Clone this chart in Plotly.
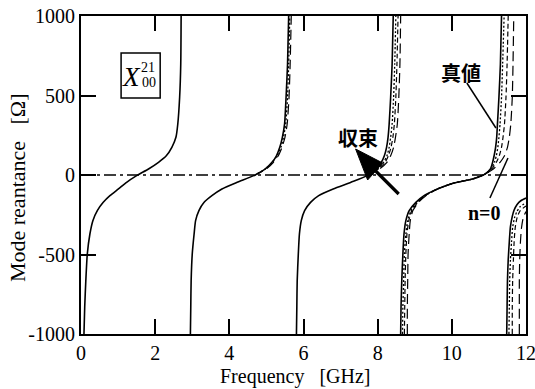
import plotly.graph_objects as go

# ---------------- data ----------------
X_TICKS = [0, 2, 4, 6, 8, 10, 12]
X_TICK_TEXT = ["0", "2", "4", "6", "8", "10", "12"]
Y_TICKS = [-1000, -500, 0, 500, 1000]
Y_TICK_TEXT = ["-1000", "-500", "0", "500", "1000"]

# "真値" (true value), solid, branch by branch
true_f1 = [0.08, 0.10, 0.13, 0.17, 0.24, 0.32, 0.44, 0.60, 0.78, 1.01, 1.23, 1.50, 1.82, 2.09, 2.30, 2.45, 2.56, 2.61, 2.66, 2.69, 2.70]
true_x1 = [-1000, -830, -665, -497, -371, -287, -224, -172, -130, -88, -46, -4, 38, 80, 121, 174, 237, 321, 489, 698, 1000]
true_f2 = [2.95, 2.96, 2.97, 3.00, 3.05, 3.09, 3.18, 3.32, 3.53, 3.80, 4.21, 4.66, 4.97, 5.15, 5.27, 5.36, 5.43, 5.49, 5.53, 5.57, 5.60]
true_x2 = [-1000, -830, -665, -497, -371, -287, -224, -172, -130, -88, -46, -4, 38, 80, 121, 174, 237, 321, 489, 698, 1000]
true_f3 = [5.81, 5.82, 5.83, 5.86, 5.89, 5.94, 6.03, 6.19, 6.41, 6.80, 7.28, 7.72, 7.96, 8.10, 8.18, 8.24, 8.28, 8.31, 8.35, 8.39, 8.42]
true_x3 = [-1000, -830, -665, -497, -371, -287, -224, -172, -130, -88, -46, -4, 38, 80, 121, 174, 237, 321, 489, 698, 1000]
true_f4 = [8.62, 8.63, 8.65, 8.68, 8.71, 8.76, 8.85, 9.03, 9.25, 9.61, 10.06, 10.56, 10.87, 11.04, 11.10, 11.14, 11.18, 11.21, 11.23, 11.27, 11.31, 11.34]
true_x4 = [-1000, -830, -665, -497, -371, -287, -224, -172, -130, -88, -50, -25, 2, 38, 80, 121, 174, 237, 321, 489, 698, 1000]
true_f5 = [11.48, 11.49, 11.50, 11.52, 11.55, 11.58, 11.63, 11.68, 11.76, 11.86, 12.0]
true_x5 = [-1000, -830, -665, -535, -420, -325, -260, -220, -185, -162, -145]

# intermediate iteration, dotted
dot_f2 = [4.66, 4.97, 5.16, 5.29, 5.39, 5.46, 5.52, 5.57, 5.60, 5.63]
dot_x2 = [-4, 38, 80, 121, 174, 237, 321, 489, 698, 1000]
dot_f3 = [7.72, 8.00, 8.16, 8.25, 8.31, 8.35, 8.39, 8.43, 8.46, 8.49]
dot_x3 = [-4, 38, 80, 121, 174, 237, 321, 489, 698, 1000]
dot_f4 = [8.67, 8.68, 8.70, 8.72, 8.76, 8.81, 8.90, 9.06, 9.27, 9.61, 10.06, 10.56, 10.87, 11.06, 11.15, 11.20, 11.24, 11.27, 11.30, 11.34, 11.37, 11.41]
dot_x4 = [-1000, -830, -665, -497, -371, -287, -224, -172, -130, -88, -50, -25, 2, 38, 80, 121, 174, 237, 321, 489, 698, 1000]
dot_f5 = [11.54, 11.55, 11.56, 11.58, 11.61, 11.64, 11.69, 11.75, 11.84, 12.0]
dot_x5 = [-1000, -830, -665, -535, -420, -330, -270, -232, -200, -175]

# intermediate iteration, short dashes
dash_f3 = [7.72, 8.02, 8.20, 8.29, 8.36, 8.41, 8.45, 8.49, 8.52, 8.55]
dash_x3 = [-4, 38, 80, 121, 174, 237, 321, 489, 698, 1000]
dash_f4 = [8.72, 8.73, 8.74, 8.76, 8.79, 8.84, 8.92, 9.08, 9.28, 9.61, 10.06, 10.56, 10.87, 11.08, 11.20, 11.28, 11.34, 11.38, 11.42, 11.46, 11.49, 11.52]
dash_x4 = [-1000, -830, -665, -497, -371, -287, -224, -172, -130, -88, -50, -25, 2, 38, 80, 121, 174, 237, 321, 489, 698, 1000]
dash_f5 = [11.63, 11.63, 11.64, 11.66, 11.68, 11.71, 11.76, 11.84, 12.0]
dash_x5 = [-1000, -830, -665, -535, -420, -330, -268, -225, -195]

# "n=0", long dashes
n0_f2 = [4.66, 5.00, 5.19, 5.32, 5.42, 5.50, 5.56, 5.61, 5.64, 5.67]
n0_x2 = [-4, 38, 80, 121, 174, 237, 321, 489, 698, 1000]
n0_f3 = [7.72, 8.05, 8.25, 8.35, 8.43, 8.48, 8.53, 8.57, 8.60, 8.62]
n0_x3 = [-4, 38, 80, 121, 174, 237, 321, 489, 698, 1000]
n0_f4 = [8.80, 8.80, 8.81, 8.82, 8.85, 8.88, 8.95, 9.10, 9.30, 9.62, 10.06, 10.56, 10.87, 11.12, 11.30, 11.42, 11.50, 11.55, 11.59, 11.63, 11.65, 11.67]
n0_x4 = [-1000, -830, -665, -497, -371, -287, -224, -172, -130, -88, -50, -25, 2, 38, 80, 121, 174, 237, 321, 489, 698, 1000]
n0_f5 = [11.82, 11.82, 11.82, 11.83, 11.85, 11.88, 11.93, 12.0]
n0_x5 = [-1000, -830, -665, -535, -420, -330, -265, -230]


def join(*pairs):
    fs, xs = [], []
    for f, x in pairs:
        if fs:
            fs.append(None)
            xs.append(None)
        fs += f
        xs += x
    return fs, xs


SERIF = "Liberation Serif"
CJK = "Noto Sans CJK JP"

fig = go.Figure()

series = [
    (join((n0_f2, n0_x2), (n0_f3, n0_x3), (n0_f4, n0_x4), (n0_f5, n0_x5)), "10px,5px", 1.2),
    (join((dash_f3, dash_x3), (dash_f4, dash_x4), (dash_f5, dash_x5)), "5px,3px", 1.2),
    (join((dot_f2, dot_x2), (dot_f3, dot_x3), (dot_f4, dot_x4), (dot_f5, dot_x5)), "2px,2px", 1.3),
    (join((true_f1, true_x1), (true_f2, true_x2), (true_f3, true_x3), (true_f4, true_x4), (true_f5, true_x5)), "solid", 1.6),
]
for (fs, xs), dash, w in series:
    fig.add_trace(go.Scatter(
        x=fs, y=xs, mode="lines", showlegend=False,
        line=dict(color="black", width=w, dash=dash, shape="spline", smoothing=0.6),
        hoverinfo="skip", connectgaps=False,
    ))

# reference pixel geometry -> data coordinates (for decorations only)
def px(xp):
    return (xp - 81) / 37.0

def py(yp):
    return (175 - yp) / 0.159

shapes = [
    # zero line, dash-dot
    dict(type="line", xref="paper", yref="y", x0=0, x1=1, y0=0, y1=0,
         line=dict(color="black", width=1.5, dash="12px,4px,3px,4px")),
    # box around the X label
    dict(type="rect", x0=px(121), x1=px(160), y0=py(98), y1=py(53),
         line=dict(color="black", width=1.5)),
    # 真値 pointer
    dict(type="line", x0=px(466), y0=py(83), x1=px(495), y1=py(128),
         line=dict(color="black", width=1.5)),
    # n=0 pointer
    dict(type="line", x0=px(507), y0=py(158), x1=px(489), y1=py(198),
         line=dict(color="black", width=1.5)),
    # 収束 arrow shaft
    dict(type="line", x0=px(398), y0=py(194), x1=px(372), y1=py(168),
         line=dict(color="black", width=3.2)),
    # 収束 arrow head
    dict(type="path",
         path=f"M {px(355)},{py(149)} L {px(367)},{py(180)} L {px(382)},{py(163)} Z",
         fillcolor="black", line=dict(color="black", width=1)),
]

annotations = [
    dict(text="<i>X</i>", x=px(131), y=py(77), showarrow=False,
         font=dict(family=SERIF, size=27, color="black")),
    dict(text="21", x=px(148), y=py(67.5), showarrow=False,
         font=dict(family=SERIF, size=14, color="black")),
    dict(text="00", x=px(148.5), y=py(82.5), showarrow=False,
         font=dict(family=SERIF, size=14, color="black")),
    dict(text="真値", x=px(460), y=py(72), showarrow=False,
         font=dict(family=CJK, size=20, color="black", weight="bold")),
    dict(text="収束", x=px(357), y=py(137), showarrow=False,
         font=dict(family=CJK, size=20, color="black", weight="bold")),
    dict(text="<b>n=0</b>", x=px(484), y=py(213), showarrow=False,
         font=dict(family=SERIF, size=20, color="black")),
    dict(text="Frequency\u00a0\u00a0\u00a0[GHz]", xref="paper", yref="paper",
         x=0.483, y=-0.135, xanchor="center", yanchor="middle", showarrow=False,
         font=dict(family=SERIF, size=20, color="black")),
    dict(text="Mode reantance\u00a0\u00a0\u00a0[Ω]", xref="paper", yref="paper",
         x=-0.1438, y=0.459, xanchor="center", yanchor="middle", textangle=-90,
         showarrow=False, font=dict(family=SERIF, size=22, color="black")),
]

axis_common = dict(
    showline=True, linecolor="black", linewidth=2, mirror="ticks",
    ticks="inside", ticklen=15, tickwidth=2, tickcolor="black",
    showgrid=False, zeroline=False, automargin=False,
    ticklabeloverflow="allow",
    tickfont=dict(family=SERIF, size=20, color="black"),
)

fig.update_layout(
    width=535, height=389,
    margin=dict(l=81, r=9, t=16, b=55, autoexpand=False),
    paper_bgcolor="white", plot_bgcolor="white",
    xaxis=dict(range=[0, 12], tickvals=X_TICKS, ticktext=X_TICK_TEXT, **axis_common),
    yaxis=dict(range=[-1000, 1000], tickvals=Y_TICKS, ticktext=Y_TICK_TEXT, **axis_common),
    shapes=shapes,
    annotations=annotations,
    showlegend=False,
)

fig.write_html(
    "out.html",
    config={"displayModeBar": False},
    post_script="document.body.style.margin='0';document.body.style.padding='0';",
)
